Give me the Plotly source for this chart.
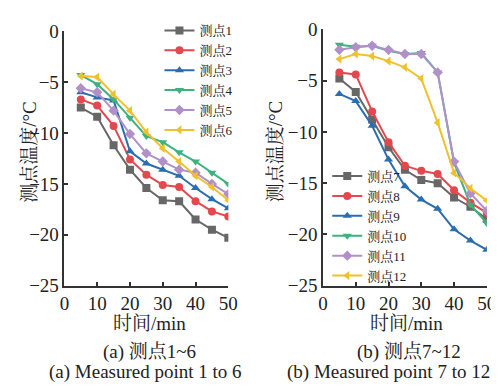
import plotly.graph_objects as go

time_min = [5, 10, 15, 20, 25, 30, 35, 40, 45, 50]

names_a = ["测点1", "测点2", "测点3", "测点4", "测点5", "测点6"]
p1 = [-7.5, -8.4, -11.2, -13.6, -15.4, -16.6, -16.7, -18.5, -19.5, -20.3]
p2 = [-6.7, -7.3, -9.3, -12.6, -14.1, -15.1, -15.3, -16.7, -17.7, -18.2]
p3 = [-6.0, -6.5, -6.8, -11.8, -13.0, -13.6, -14.2, -15.4, -16.5, -17.4]
p4 = [-4.3, -5.2, -6.7, -8.5, -10.3, -10.9, -11.9, -12.8, -13.9, -15.0]
p5 = [-5.6, -6.0, -7.8, -10.1, -12.0, -12.8, -13.6, -13.9, -15.0, -16.0]
p6 = [-4.4, -4.5, -6.2, -7.8, -9.9, -11.5, -12.8, -14.2, -15.3, -16.6]

names_b = ["测点7", "测点8", "测点9", "测点10", "测点11", "测点12"]
p7 = [-4.8, -6.1, -8.8, -11.5, -13.7, -14.7, -15.0, -16.4, -17.3, -18.5]
p8 = [-4.2, -4.4, -8.0, -11.0, -13.3, -13.8, -14.1, -15.7, -16.9, -17.9]
p9 = [-6.3, -7.0, -9.4, -12.7, -15.3, -16.6, -17.5, -19.5, -20.6, -21.5]
p10 = [-1.5, -1.7, -1.6, -2.1, -2.4, -2.3, -4.2, -13.0, -17.1, -18.9]
p11 = [-2.0, -1.75, -1.6, -2.0, -2.4, -2.4, -4.2, -12.9, -16.0, -17.7]
p12 = [-2.9, -2.4, -2.6, -3.1, -3.7, -4.8, -9.1, -14.0, -15.5, -16.7]

x_ticks = [0, 10, 20, 30, 40, 50]
y_ticks = [0, -5, -10, -15, -20, -25]

colors = ["#676767", "#e5474e", "#2a6db0", "#3db27d", "#b190c9", "#efc12e"]
symbols = ["square", "circle", "triangle-up", "triangle-down", "diamond", "triangle-left"]

FONT = "Liberation Serif, Noto Serif CJK SC, Noto Sans CJK SC, serif"
W, H = 499, 388

fig = go.Figure()

series_a = [p1, p2, p3, p4, p5, p6]
series_b = [p7, p8, p9, p10, p11, p12]

for i, (nm, ys) in enumerate(zip(names_a, series_a)):
    fig.add_trace(go.Scatter(
        x=time_min, y=ys, name=nm, mode="lines+markers",
        line=dict(color=colors[i], width=2),
        marker=dict(symbol=symbols[i], size=8, color=colors[i]),
        xaxis="x", yaxis="y", legend="legend"))

for i, (nm, ys) in enumerate(zip(names_b, series_b)):
    fig.add_trace(go.Scatter(
        x=time_min, y=ys, name=nm, mode="lines+markers",
        line=dict(color=colors[i], width=2),
        marker=dict(symbol=symbols[i], size=8, color=colors[i]),
        xaxis="x2", yaxis="y2", legend="legend2"))

def px_x(p):
    return p / W

def px_y(p):
    return 1 - p / H

axis_common = dict(
    showline=True, linecolor="#333333", linewidth=1.5,
    ticks="inside", ticklen=4, tickwidth=1.5, tickcolor="#333333",
    showgrid=False, zeroline=False,
    tickfont=dict(family=FONT, size=19, color="#222222"),
)

fig.update_layout(
    width=W, height=H,
    margin=dict(l=0, r=0, t=0, b=0),
    paper_bgcolor="white", plot_bgcolor="white",
    font=dict(family=FONT, color="#222222"),
    xaxis=dict(domain=[px_x(53), px_x(222)], range=[0, 50], tickvals=x_ticks,
               anchor="y", **axis_common),
    yaxis=dict(domain=[px_y(283), px_y(14)], range=[-25, 0], tickvals=y_ticks,
               anchor="x", **axis_common),
    xaxis2=dict(domain=[px_x(319.6), px_x(488.5)], range=[0, 50], tickvals=x_ticks,
                anchor="y2", **axis_common),
    yaxis2=dict(domain=[px_y(283), px_y(12)], range=[-25, 0], tickvals=y_ticks,
                anchor="x2", **axis_common),
    legend=dict(x=px_x(151), y=px_y(66), xanchor="left", yanchor="middle",
                bgcolor="rgba(0,0,0,0)", font=dict(family=FONT, size=13),
                tracegroupgap=0, itemwidth=30),
    legend2=dict(x=px_x(324), y=px_y(220), xanchor="left", yanchor="middle",
                 bgcolor="rgba(0,0,0,0)", font=dict(family=FONT, size=13),
                 tracegroupgap=0, itemwidth=30),
)

ann = [
    dict(text="测点温度/°C", x=px_x(17), y=px_y(141), textangle=-90, size=19),
    dict(text="测点温度/°C", x=px_x(270), y=px_y(141), textangle=-90, size=19),
    dict(text="时间/min", x=px_x(141), y=px_y(323), textangle=0, size=19),
    dict(text="时间/min", x=px_x(406), y=px_y(323), textangle=0, size=19),
    dict(text="(a) 测点1~6", x=px_x(141), y=px_y(353), textangle=0, size=19),
    dict(text="(a) Measured point 1 to 6", x=px_x(137), y=px_y(374), textangle=0, size=19),
    dict(text="(b) 测点7~12", x=px_x(408), y=px_y(353), textangle=0, size=19),
    dict(text="(b) Measured point 7 to 12", x=px_x(387), y=px_y(374), textangle=0, size=19),
]
for a in ann:
    fig.add_annotation(text=a["text"], x=a["x"], y=a["y"], xref="paper", yref="paper",
                       xanchor="center", yanchor="middle", showarrow=False,
                       textangle=a["textangle"],
                       font=dict(family=FONT, size=a["size"], color="#222222"))

fig.write_html("out.html")
